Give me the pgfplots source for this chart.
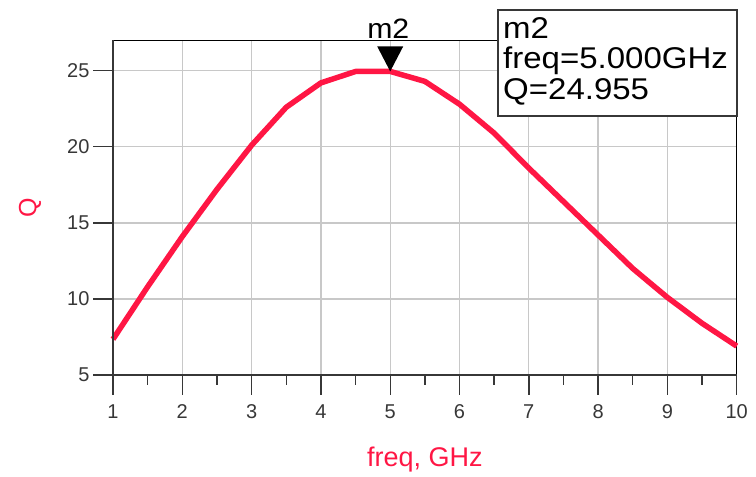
\documentclass[border=0pt]{standalone}
\usepackage{pgfplots}
\pgfplotsset{compat=1.18}
\usepackage{fontspec}
\setmainfont{Liberation Sans}

\definecolor{qred}{RGB}{255,22,68}
\definecolor{axgray}{RGB}{55,55,55}
\definecolor{gridgray}{RGB}{200,200,200}

% downward-pointing marker whose tip sits on the data point
\pgfdeclareplotmark{downtri}{%
  \pgfpathmoveto{\pgfpoint{0bp}{0bp}}%
  \pgfpathlineto{\pgfpoint{-13bp}{25bp}}%
  \pgfpathlineto{\pgfpoint{13bp}{25bp}}%
  \pgfpathclose\pgfusepathqfill}

\begin{document}
\begin{tikzpicture}[x=1bp,y=1bp]
\useasboundingbox (0,0) rectangle (756,477);
\begin{axis}[
  at={(113bp,102bp)}, anchor=south west,
  scale only axis, width=623.7bp, height=334.7bp,
  xmin=1, xmax=10, ymin=5, ymax=27,
  xtick={1,...,10}, ytick={5,10,...,25},
  minor x tick num=1,
  tick align=outside, tick pos=left,
  major tick length=20bp, minor tick length=10bp,
  every tick/.style={axgray, line width=1.4bp},
  grid=major, major grid style={gridgray, line width=1.3bp},
  axis line style={black, line width=1.2bp},
  ticklabel style={font=\fontsize{20bp}{24bp}\selectfont, text=axgray},
  xticklabel style={yshift=-6bp},
  /pgf/number format/assume math mode=true,
  xlabel={freq, GHz},
  xlabel style={at={(axis description cs:0.5,-0.254)}, anchor=center,
    font=\fontsize{27bp}{32bp}\selectfont, text=qred},
  ylabel={Q},
  ylabel style={at={(axis description cs:-0.133,0.499)}, anchor=center,
    font=\fontsize{25bp}{30bp}\selectfont, text=qred},
  clip=false,
]
\addplot[qred, line width=5.5bp, line join=round] coordinates {
  (1,7.35) (1.5,10.8) (2,14.1) (2.5,17.2) (3,20.1) (3.5,22.6)
  (4,24.2) (4.5,24.95) (5,24.955) (5.5,24.3) (6,22.8) (6.5,20.9)
  (7,18.6) (7.5,16.4) (8,14.2) (8.5,12.0) (9,10.1) (9.5,8.4) (10,6.9)
};
\addplot[only marks, mark=downtri, black] coordinates {(5,24.955)};
% darker left and bottom axis lines
\draw[axgray, line width=2bp] (axis description cs:0,1) -- (axis description cs:0,0) -- (axis description cs:1,0);
\end{axis}
% marker label
\node[anchor=base, font=\fontsize{28bp}{32bp}\selectfont, xscale=1.08] at (388.3,438.7) {m2};
% marker readout
\draw[axgray, line width=1.4bp, fill=white] (498,361) rectangle (737,467);
\begin{scope}[font=\fontsize{30bp}{34bp}\selectfont]
\node[anchor=base west, inner sep=0pt, xscale=1.1] at (503,438.7) {m2};
\node[anchor=base west, inner sep=0pt, xscale=1.1] at (503,408.7) {freq=5.000GHz};
\node[anchor=base west, inner sep=0pt, xscale=1.1] at (503,377.7) {Q=24.955};
\end{scope}
\end{tikzpicture}
\end{document}
